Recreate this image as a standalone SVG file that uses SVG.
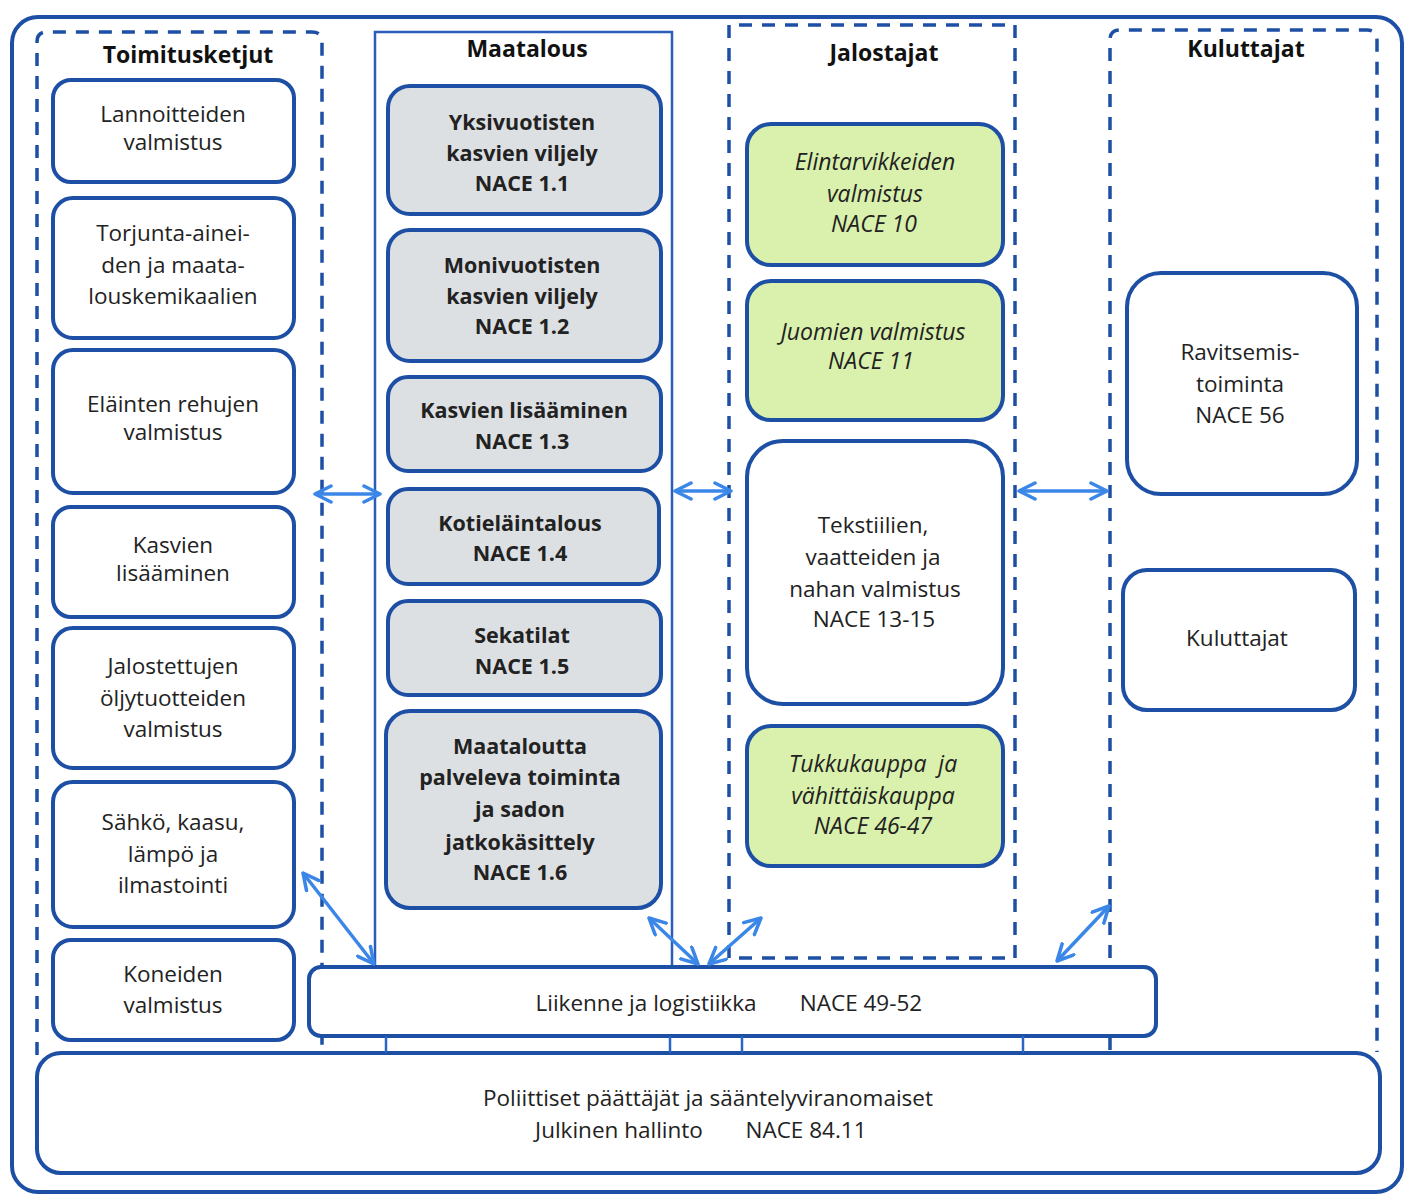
<svg xmlns="http://www.w3.org/2000/svg" width="1412" height="1199" viewBox="0 0 1412 1199">
<defs>
<style>
.frame{fill:none;stroke:#1d4fa5;stroke-width:4}
.group{fill:none;stroke:#1d4fa5;stroke-width:3.5;stroke-dasharray:13 10}
.solid{fill:none;stroke:#2a5cb8;stroke-width:2.5}
.box{fill:#fff;stroke:#1d4fa5;stroke-width:4}
.gray{fill:#dde0e3;stroke:#1d4fa5;stroke-width:4}
.green{fill:#d9f1ac;stroke:#1d4fa5;stroke-width:4}
.tick{stroke:#2a64c8;stroke-width:2.5}
text{font-family:"Open Sans","Noto Sans","Liberation Sans",sans-serif;font-size:22.5px;fill:#222;text-anchor:middle}
.title{font-weight:bold;font-size:23px;fill:#111}
.b{font-weight:bold;font-size:21.5px;fill:#222}
.i{font-style:italic;font-size:23px}
.arr{fill:none;stroke:#3b87e8;stroke-width:3.5;marker-start:url(#h);marker-end:url(#h)}
</style>
<marker id="h" viewBox="0 0 12 12" refX="11" refY="6" markerWidth="5.5" markerHeight="5.5" orient="auto-start-reverse" markerUnits="strokeWidth">
<path d="M1,1 L11,6 L1,11" fill="none" stroke="#3b87e8" stroke-width="2.2" stroke-linecap="round" stroke-linejoin="round"/>
</marker>
</defs>
<rect x="0" y="0" width="1412" height="1199" fill="#fff"/>
<g id="frame"><rect class="frame" x="12" y="17" width="1390" height="1175" rx="26"/></g>

<g id="toimitusketjut">
<path class="group" d="M37,1055 V42 Q37,32 47,32 H312 Q322,32 322,42 V1052"/>
<text class="title" x="188" y="63">Toimitusketjut</text>
</g>
<g id="maatalous">
<path class="solid" d="M375,967 V32 H672 V967"/>
<text class="title" x="527" y="57">Maatalous</text>
</g>
<g id="jalostajat">
<path class="group" d="M729,958 V25 H1015 V958 H729"/>
<text class="title" x="884" y="61">Jalostajat</text>
</g>
<g id="kuluttajat-group">
<path class="group" d="M1110,1050 V40 Q1110,30 1120,30 H1367 Q1377,30 1377,40 V1052"/>
<text class="title" x="1246" y="57">Kuluttajat</text>
</g>

<g id="n-lannoitteiden"><rect class="box" x="53" y="80" width="241" height="102" rx="18"/>
<text x="173" y="122">Lannoitteiden</text><text x="173" y="150">valmistus</text></g>
<g id="n-torjunta"><rect class="box" x="53" y="198" width="241" height="140" rx="20"/>
<text x="173" y="241">Torjunta-ainei-</text><text x="173" y="273">den ja maata-</text><text x="173" y="304">louskemikaalien</text></g>
<g id="n-rehujen"><rect class="box" x="53" y="350" width="241" height="143" rx="20"/>
<text x="173" y="412">Eläinten rehujen</text><text x="173" y="440">valmistus</text></g>
<g id="n-kasvien"><rect class="box" x="53" y="507" width="241" height="110" rx="18"/>
<text x="173" y="553">Kasvien</text><text x="173" y="581">lisääminen</text></g>
<g id="n-oljy"><rect class="box" x="53" y="628" width="241" height="140" rx="20"/>
<text x="173" y="674">Jalostettujen</text><text x="173" y="706">öljytuotteiden</text><text x="173" y="737">valmistus</text></g>
<g id="n-sahko"><rect class="box" x="53" y="782" width="241" height="145" rx="20"/>
<text x="173" y="830">Sähkö, kaasu,</text><text x="173" y="862">lämpö ja</text><text x="173" y="893">ilmastointi</text></g>
<g id="n-koneiden"><rect class="box" x="53" y="940" width="241" height="100" rx="18"/>
<text x="173" y="982">Koneiden</text><text x="173" y="1013">valmistus</text></g>

<g id="n-nace11"><rect class="gray" x="388" y="86" width="273" height="128" rx="22"/>
<text class="b" x="522" y="130">Yksivuotisten</text><text class="b" x="522" y="161">kasvien viljely</text><text class="b" x="522" y="191">NACE 1.1</text></g>
<g id="n-nace12"><rect class="gray" x="388" y="230" width="273" height="131" rx="22"/>
<text class="b" x="522" y="273">Monivuotisten</text><text class="b" x="522" y="304">kasvien viljely</text><text class="b" x="522" y="334">NACE 1.2</text></g>
<g id="n-nace13"><rect class="gray" x="388" y="377" width="273" height="94" rx="20"/>
<text class="b" x="524" y="418">Kasvien lisääminen</text><text class="b" x="522" y="449">NACE 1.3</text></g>
<g id="n-nace14"><rect class="gray" x="388" y="489" width="271" height="95" rx="20"/>
<text class="b" x="520" y="531">Kotieläintalous</text><text class="b" x="520" y="561">NACE 1.4</text></g>
<g id="n-nace15"><rect class="gray" x="388" y="601" width="273" height="94" rx="20"/>
<text class="b" x="522" y="643">Sekatilat</text><text class="b" x="522" y="674">NACE 1.5</text></g>
<g id="n-nace16"><rect class="gray" x="386" y="711" width="275" height="197" rx="24"/>
<text class="b" x="520" y="754">Maataloutta</text><text class="b" x="520" y="785">palveleva toiminta</text><text class="b" x="520" y="817">ja sadon</text><text class="b" x="520" y="850">jatkokäsittely</text><text class="b" x="520" y="880">NACE 1.6</text></g>

<g id="n-nace10"><rect class="green" x="747" y="124" width="256" height="141" rx="24"/>
<text class="i" x="875" y="170">Elintarvikkeiden</text><text class="i" x="875" y="202">valmistus</text><text class="i" x="874" y="232">NACE 10</text></g>
<g id="n-nace11j"><rect class="green" x="747" y="281" width="256" height="139" rx="24"/>
<text class="i" x="873" y="340">Juomien valmistus</text><text class="i" x="871" y="369">NACE 11</text></g>
<g id="n-nace1315"><rect class="box" x="747" y="441" width="256" height="263" rx="36"/>
<text x="873" y="533">Tekstiilien,</text><text x="873" y="565">vaatteiden ja</text><text x="875" y="597">nahan valmistus</text><text x="874" y="627">NACE 13-15</text></g>
<g id="n-nace4647"><rect class="green" x="747" y="726" width="256" height="140" rx="24"/>
<text class="i" x="873" y="772" xml:space="preserve">Tukkukauppa  ja</text><text class="i" x="873" y="804">vähittäiskauppa</text><text class="i" x="873" y="834">NACE 46-47</text></g>

<g id="n-nace56"><rect class="box" x="1127" y="273" width="230" height="221" rx="34"/>
<text x="1240" y="360">Ravitsemis-</text><text x="1240" y="392">toiminta</text><text x="1240" y="423">NACE 56</text></g>
<g id="n-kuluttajat"><rect class="box" x="1123" y="570" width="232" height="140" rx="24"/>
<text x="1237" y="646">Kuluttajat</text></g>

<g id="n-logistiikka"><rect class="box" x="309" y="967" width="847" height="69" rx="12"/>
<text x="646" y="1011">Liikenne ja logistiikka</text><text x="861" y="1011">NACE 49-52</text></g>

<g id="n-hallinto"><rect class="box" x="37" y="1053" width="1343" height="120" rx="24"/>
<text x="708" y="1106">Poliittiset päättäjät ja sääntelyviranomaiset</text>
<text x="619" y="1138">Julkinen hallinto</text><text x="806" y="1138">NACE 84.11</text></g>

<g id="connectors">
<line class="tick" x1="386" y1="1036" x2="386" y2="1053"/>
<line class="tick" x1="670" y1="1036" x2="670" y2="1053"/>
<line class="tick" x1="742" y1="1036" x2="742" y2="1053"/>
<line class="tick" x1="1023" y1="1036" x2="1023" y2="1053"/>
<line class="arr" x1="315" y1="494" x2="380" y2="494"/>
<line class="arr" x1="675" y1="491" x2="731" y2="491"/>
<line class="arr" x1="1019" y1="491" x2="1107" y2="491"/>
<line class="arr" x1="303" y1="873" x2="374" y2="964"/>
<line class="arr" x1="649" y1="918" x2="698" y2="964"/>
<line class="arr" x1="709" y1="964" x2="761" y2="918"/>
<line class="arr" x1="1057" y1="961" x2="1109" y2="906"/>
</g>
</svg>
